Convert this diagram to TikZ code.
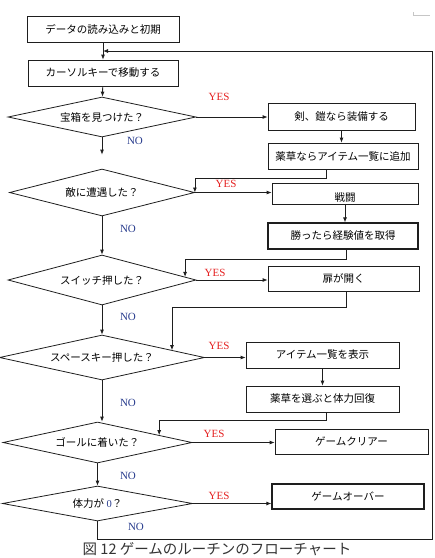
\documentclass[tikz,border=0pt]{standalone}
\usepackage{fontspec}
\setmainfont{Liberation Serif}
\newfontfamily\jp{Noto Sans CJK JP}
\usepackage{tikz}
\usetikzlibrary{shapes.geometric,arrows.meta,calc}

\definecolor{yesred}{RGB}{228,32,32}
\definecolor{nonavy}{RGB}{38,58,140}
\definecolor{inkgray}{RGB}{30,30,30}

\tikzset{
    procbox/.style={draw=inkgray, line width=0.8pt, minimum height=26pt, inner sep=2pt,
        font=\jp\fontsize{10.5}{12}\selectfont},
    boldbox/.style={procbox, line width=1.2pt},
    testbox/.style={draw=inkgray, diamond, aspect=4.7, inner sep=0pt, line width=0.8pt,
        font=\jp\fontsize{10.5}{12}\selectfont},
    yeslbl/.style={text=yesred, font=\fontsize{11}{12}\selectfont},
    nolbl/.style={text=nonavy, font=\fontsize{11}{12}\selectfont},
}

\begin{document}
\begin{tikzpicture}[x=1pt, y=-1pt, line width=0.8pt, draw=inkgray, >={Latex[length=5pt, width=4pt]}]
    \useasboundingbox (0, 0) rectangle (435, 558);

    \draw [gray!45, line width=0.6pt] (413, 12) -- (413, 15) -- (430, 15);

    \node (init) at (103, 29) [procbox, minimum width=152pt] {データの読み込みと初期};
    \node (move) at (103, 73) [procbox, minimum width=150pt] {カーソルキーで移動する};

    \node (d1) at (102, 117) [testbox, minimum width=188pt, minimum height=40pt] {宝箱を見つけた？};
    \node (equip) at (341.5, 116.5) [procbox, minimum width=147pt, minimum height=27pt] {剣、鎧なら装備する};
    \node (herb) at (343, 156) [procbox, minimum width=150pt] {薬草ならアイテム一覧に追加};

    \node (d2) at (102, 192.5) [testbox, minimum width=185pt, minimum height=47pt] {敵に遭遇した？};
    \node (battle) at (345, 193.5) [procbox, minimum width=146pt, minimum height=21pt, text height=16pt, text depth=0pt] {戦闘};
    \node (win) at (343, 236) [boldbox, minimum width=150pt] {勝ったら経験値を取得};

    \node (d3) at (102, 280) [testbox, minimum width=188pt, minimum height=50pt] {スイッチ押した？};
    \node (door) at (343.5, 278.5) [procbox, minimum width=151pt, minimum height=25pt] {扉が開く};

    \node (d4) at (102, 357.5) [testbox, minimum width=205pt, minimum height=45pt] {スペースキー押した？};
    \node (items) at (322.5, 355) [procbox, minimum width=153pt] {アイテム一覧を表示};
    \node (heal) at (322.5, 399) [procbox, minimum width=153pt] {薬草を選ぶと体力回復};

    \node (d5) at (97.5, 442.5) [testbox, minimum width=189pt, minimum height=41pt] {ゴールに着いた？};
    \node (clear) at (351.5, 441.5) [procbox, minimum width=153pt, minimum height=25pt] {ゲームクリアー};

    \node (d6) at (97.5, 503.5) [testbox, minimum width=190pt, minimum height=35pt] {体力が {\rmfamily\color{nonavy}0}？};
    \node (over) at (348, 496.5) [boldbox, minimum width=152pt, minimum height=25pt] {ゲームオーバー};

    \coordinate (join) at (103, 51);
    \coordinate (loopcorner) at (432, 539);

    \draw [->] (init) -- (move);
    \draw [->] (move) -- (d1);

    \draw [->] (d1.east) -- (d1.east -| equip.west);
    \draw [->] (equip.south) -- (equip.south |- herb.north);
    \draw [->, shorten >=14pt] (d1.south) -- (d2.north);
    \draw [->] ([xshift=-17pt]herb.south) -- ++(0, 9) -| (d2.east);

    \draw [->] (d2.east) -- (d2.east -| battle.west);
    \draw [->] (battle.south) -- (battle.south |- win.north);
    \draw [->] (d2.south) -- (d3.north);
    \draw [->] ([xshift=3pt]win.south) -- ++(0, 10) -| ($(d3.east)!0.12!(d3.north)$);

    \draw [->] (d3.east) -- (d3.east -| door.west);
    \draw [->] (d3.south) -- (d4.north);
    \draw [->] ([xshift=3pt]door.south) -- ++(0, 16) -| ($(d4.east)!0.32!(d4.north)$);

    \draw [->] (d4.east) -- (d4.east -| items.west);
    \draw [->] (items.south) -- (heal.north);
    \draw [->] (d4.south) -- (d4.south |- d5.north);
    \draw [->] ([xshift=4pt]heal.south) -- ++(0, 8) -| ($(d5.east)!0.35!(d5.north)$);

    \draw [->] (d5.east) -- (d5.east -| clear.west);
    \draw [->] (d5.south) -- (d6.north);

    \draw [->] (d6.east) -- (d6.east -| over.west);
    \draw [->] (d6.south) |- (loopcorner) |- (join);

    \node at (219, 97) [yeslbl] {YES};
    \node at (226, 184) [yeslbl] {YES};
    \node at (215, 273) [yeslbl] {YES};
    \node at (219, 346) [yeslbl] {YES};
    \node at (214, 434) [yeslbl] {YES};
    \node at (219, 496) [yeslbl] {YES};

    \node at (135, 141) [nolbl] {NO};
    \node at (128, 229) [nolbl] {NO};
    \node at (128, 317) [nolbl] {NO};
    \node at (128, 403) [nolbl] {NO};
    \node at (128, 476) [nolbl] {NO};
    \node at (136, 527) [nolbl] {NO};

    \node (caption) at (217, 549.5) [font=\jp\fontsize{14.5}{16}\selectfont, text=black!80] {図\ 12\ ゲームのルーチンのフローチャート};
\end{tikzpicture}
\end{document}
